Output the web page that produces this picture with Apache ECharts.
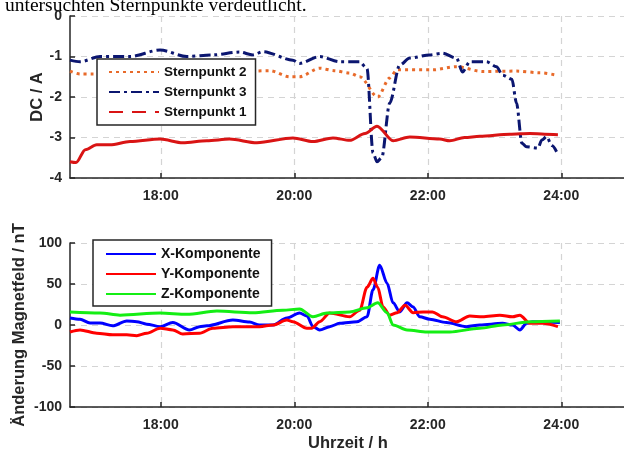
<!DOCTYPE html>
<html>
<head>
<meta charset="utf-8">
<script src="https://cdn.jsdelivr.net/npm/echarts@6/dist/echarts.min.js"></script>
<style>
  html, body { margin: 0; padding: 0; background: #fff; }
  #main { width: 624px; height: 454px; }
</style>
</head>
<body>
<div id="main"></div>
<script>
// x-Werte in Stunden (16.64 = ca. 16:38)
const xTicks = [18, 20, 22, 24];

// Oben: Sternpunkt-Gleichstrom in A
const sp1Time = [16.64, 16.73, 16.87, 17.04, 17.24, 17.54, 17.99, 18.33, 18.69, 19.03, 19.44, 19.98, 20.28, 20.58, 20.83, 21.06, 21.24, 21.48, 21.73, 22.18, 22.33, 22.55, 22.78, 23.23, 23.53, 23.75, 23.95];
const sp1Vals = [-3.6, -3.62, -3.3, -3.18, -3.18, -3.1, -3.04, -3.13, -3.08, -3.04, -3.13, -3.01, -3.1, -3.01, -3.07, -2.9, -2.72, -3.08, -2.99, -3.04, -3.08, -3.0, -2.97, -2.92, -2.9, -2.92, -2.93];

const sp2Time = [16.64, 16.79, 16.98, 17.39, 17.99, 18.58, 19.18, 19.63, 19.93, 20.08, 20.38, 20.6, 20.83, 20.98, 21.25, 21.43, 21.54, 22.07, 22.43, 22.82, 23.33, 23.68, 23.93];
const sp2Vals = [-1.36, -1.43, -1.43, -1.4, -1.38, -1.4, -1.37, -1.35, -1.5, -1.5, -1.29, -1.35, -1.41, -1.5, -2.0, -1.53, -1.33, -1.33, -1.25, -1.37, -1.36, -1.4, -1.46];

const sp3Time = [16.64, 16.79, 17.09, 17.54, 17.99, 18.39, 18.78, 19.18, 19.38, 19.53, 19.98, 20.08, 20.38, 20.68, 20.98, 21.09, 21.18, 21.24, 21.31, 21.43, 21.58, 21.73, 22.03, 22.22, 22.43, 22.52, 22.63, 22.88, 23.03, 23.12, 23.26, 23.33, 23.41, 23.48, 23.65, 23.71, 23.78, 23.86, 23.93];
const sp3Vals = [-1.09, -1.13, -1.0, -1.0, -0.84, -1.0, -0.96, -0.89, -0.96, -0.88, -1.09, -1.17, -1.0, -1.13, -1.13, -1.3, -3.38, -3.6, -3.5, -2.15, -1.21, -1.04, -0.96, -0.92, -1.04, -1.38, -1.13, -1.13, -1.25, -1.46, -1.56, -2.15, -3.14, -3.23, -3.26, -3.06, -2.98, -3.2, -3.35];

// Unten: Änderung Magnetfeld in nT
const xKompTime = [16.64, 16.79, 16.94, 17.09, 17.28, 17.49, 17.64, 17.79, 17.99, 18.18, 18.43, 18.58, 18.69, 19.08, 19.33, 19.48, 19.68, 19.89, 20.08, 20.19, 20.28, 20.38, 20.53, 20.68, 20.94, 21.09, 21.18, 21.28, 21.39, 21.48, 21.58, 21.69, 21.78, 21.88, 22.03, 22.28, 22.58, 22.78, 23.12, 23.27, 23.38, 23.48, 23.57, 23.98];
const xKompVals = [8.5, 7, 2.4, 2.4, -1, 5, 4, 1, -2, 3, -6, -2, -1, 6, 3.6, 0, 0, 8.5, 14.6, 11, -2, -6, -2, 2, 4, 10, 43, 73, 51, 27, 16, 27, 22, 10, 7, 3, -2, 0, 2, 0, -6, 2, 4, 3];

const yKompTime = [16.64, 16.79, 17.04, 17.28, 17.49, 17.64, 17.79, 17.99, 18.18, 18.33, 18.58, 18.78, 19.08, 19.48, 19.68, 19.89, 19.98, 20.19, 20.26, 20.38, 20.53, 20.83, 20.98, 21.09, 21.18, 21.25, 21.33, 21.43, 21.54, 21.66, 21.78, 21.93, 22.07, 22.22, 22.43, 22.63, 22.82, 23.08, 23.27, 23.38, 23.53, 23.72, 23.95];
const yKompVals = [-8.5, -6, -10, -12, -12, -13, -10, -4, -6, -11, -10, -4, -2, -2, 0, 6, 4, -4, -4, 4, 14.6, 10, 18, 46, 57, 46, 22, 12, 15, 24, 15, 16, 16, 10, 4, 11, 10, 12, 10, 12, 2, 2, -2];

const zKompTime = [16.64, 17.09, 17.39, 17.99, 18.39, 18.84, 19.38, 19.83, 20.08, 20.28, 20.49, 20.83, 21.09, 21.25, 21.39, 21.48, 21.69, 21.99, 22.33, 22.78, 23.12, 23.53, 23.98];
const zKompVals = [16, 14.6, 12, 14.6, 13, 17, 15, 18, 19.5, 10, 14.6, 16, 21, 27, 15, 0, -6, -8.5, -8.5, -4, 0, 4, 5];

function zip(t, v) {
  return t.map(function (x, i) { return [x, v[i]]; });
}

const FONT = "'Liberation Sans', Arial, sans-serif";
const AXIS_COLOR = '#262626';
const GRID_COLOR = '#d4d4d4';

function xAxisCfg(gridIndex) {
  return {
    type: 'value',
    gridIndex: gridIndex,
    min: 16.64,
    max: 24.94,
    axisLine: { show: true, onZero: false, lineStyle: { color: AXIS_COLOR, width: 1.5 } },
    axisTick: { show: true, inside: true, length: 5, customValues: xTicks, lineStyle: { color: AXIS_COLOR, width: 1.5 } },
    axisLabel: {
      customValues: xTicks,
      margin: 11,
      color: AXIS_COLOR,
      fontFamily: FONT,
      fontWeight: 'bold',
      fontSize: 14,
      formatter: function (v) { return Math.round(v) + ':00'; }
    },
    splitLine: { show: true, lineStyle: { color: GRID_COLOR, type: [6, 5], width: 1.2 } }
  };
}

function yAxisCfg(gridIndex, min, max, interval, name, gap) {
  return {
    type: 'value',
    gridIndex: gridIndex,
    min: min,
    max: max,
    interval: interval,
    name: name,
    nameLocation: 'middle',
    nameGap: gap,
    nameMoveOverlap: false,
    nameTextStyle: { color: AXIS_COLOR, fontFamily: FONT, fontWeight: 'bold', fontSize: 16.5 },
    axisLine: { show: true, onZero: false, lineStyle: { color: AXIS_COLOR, width: 1.5 } },
    axisTick: { show: true, inside: true, length: 5, lineStyle: { color: AXIS_COLOR, width: 1.5 } },
    axisLabel: { margin: 8, color: AXIS_COLOR, fontFamily: FONT, fontWeight: 'bold', fontSize: 14 },
    splitLine: { show: true, lineStyle: { color: GRID_COLOR, type: [6, 5], width: 1.2 } }
  };
}

function lineSeries(name, data, color, width, type, xi, yi) {
  return {
    name: name,
    type: 'line',
    xAxisIndex: xi,
    yAxisIndex: yi,
    data: data,
    symbol: 'none',
    smooth: 0.3,
    smoothMonotone: 'x',
    color: color,
    lineStyle: { color: color, width: width, type: type }
  };
}

var myChart = echarts.init(document.getElementById('main'));

var option = {
  animation: false,
  backgroundColor: '#fff',
  graphic: [
    {
      type: 'text',
      left: 5,
      top: -4,
      style: {
        text: 'untersuchten Sternpunkte verdeutlicht.',
        fill: '#000',
        font: "19.5px 'Liberation Serif', 'Times New Roman', serif"
      }
    },
    {
      type: 'text',
      left: 308,
      top: 435,
      style: {
        text: 'Uhrzeit / h',
        fill: AXIS_COLOR,
        font: "bold 16.5px 'Liberation Sans', Arial, sans-serif"
      }
    }
  ],
  grid: [
    { left: 70, top: 16, height: 162, right: 0 },
    { left: 70, top: 243, height: 164, right: 0 }
  ],
  xAxis: [xAxisCfg(0), xAxisCfg(1)],
  yAxis: [
    yAxisCfg(0, -4, 0, 1, 'DC / A', 24),
    yAxisCfg(1, -100, 100, 50, 'Änderung Magnetfeld / nT', 42)
  ],
  legend: [
    {
      orient: 'vertical',
      left: 97,
      top: 59,
      padding: [6, 9, 6, 11],
      itemWidth: 50,
      itemHeight: 14,
      itemGap: 6,
      itemStyle: { opacity: 0 },
      backgroundColor: '#fff',
      borderColor: AXIS_COLOR,
      borderWidth: 1.5,
      borderRadius: 0,
      textStyle: { color: '#111', fontFamily: FONT, fontWeight: 'bold', fontSize: 13.5 },
      data: [
        { name: 'Sternpunkt 2' },
        { name: 'Sternpunkt 3' },
        { name: 'Sternpunkt 1', lineStyle: { type: [14, 9] } }
      ]
    },
    {
      orient: 'vertical',
      left: 93,
      top: 240,
      padding: [7, 11, 5, 12],
      itemWidth: 50,
      itemHeight: 14,
      itemGap: 6,
      itemStyle: { opacity: 0 },
      backgroundColor: '#fff',
      borderColor: AXIS_COLOR,
      borderWidth: 1.5,
      borderRadius: 0,
      textStyle: { color: '#111', fontFamily: FONT, fontWeight: 'bold', fontSize: 14 },
      data: ['X-Komponente', 'Y-Komponente', 'Z-Komponente']
    }
  ],
  series: [
    lineSeries('Sternpunkt 2', zip(sp2Time, sp2Vals), '#E86A2A', 3, [3, 4], 0, 0),
    lineSeries('Sternpunkt 3', zip(sp3Time, sp3Vals), '#0B1670', 3, [11, 4, 3, 4], 0, 0),
    lineSeries('Sternpunkt 1', zip(sp1Time, sp1Vals), '#D91414', 3, 'solid', 0, 0),
    lineSeries('X-Komponente', zip(xKompTime, xKompVals), '#0000FF', 3, 'solid', 1, 1),
    lineSeries('Y-Komponente', zip(yKompTime, yKompVals), '#FF0000', 3, 'solid', 1, 1),
    lineSeries('Z-Komponente', zip(zKompTime, zKompVals), '#14EE14', 3, 'solid', 1, 1)
  ]
};

myChart.setOption(option);
</script>
</body>
</html>
